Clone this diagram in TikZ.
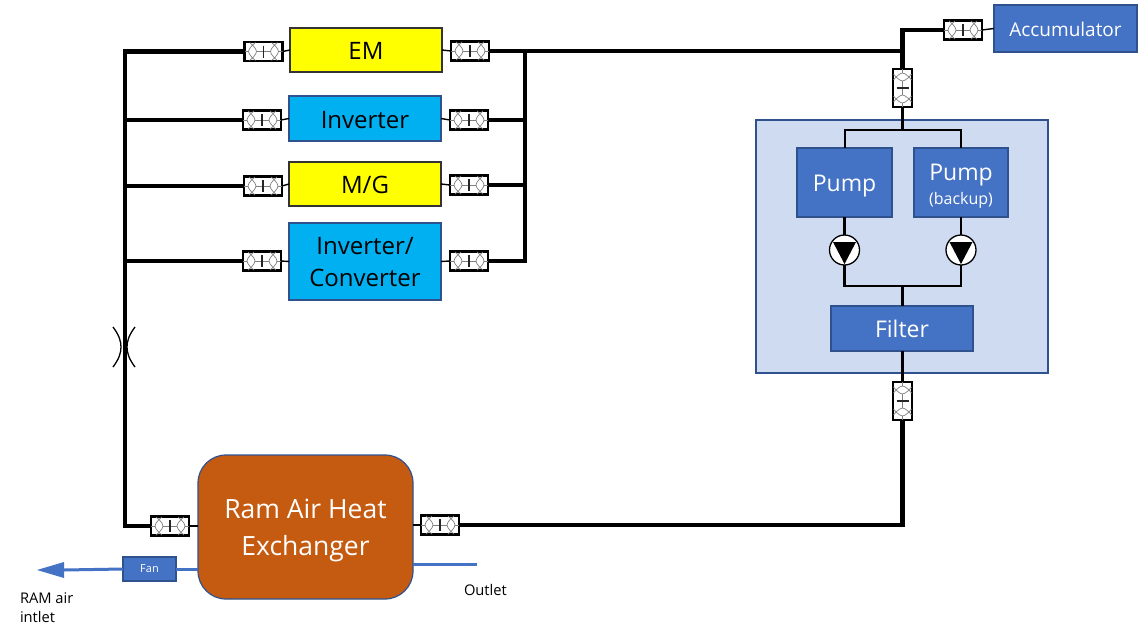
\documentclass[tikz,border=0pt]{standalone}
\usepackage{fontspec}
\setmainfont{Open Sans}
\definecolor{ybox}{HTML}{FFFF00}
\definecolor{cbox}{HTML}{00B0F0}
\definecolor{bbox}{HTML}{4472C4}
\definecolor{bedge}{HTML}{2F528F}
\definecolor{panel}{HTML}{CFDBF1}
\definecolor{rust}{HTML}{C55A11}
\definecolor{cgray}{HTML}{808080}
\newcommand{\lowtext}[2]{\raisebox{-#1}[\height][\depth]{#2}}
\tikzset{
  every node/.style={inner sep=0pt,outer sep=0pt},
  yellowbox/.style={draw=black!80,line width=1.2pt,fill=ybox,font=\fontsize{24}{28}\selectfont,align=center},
  cyanbox/.style={draw=bedge,line width=1.2pt,fill=cbox,font=\fontsize{24}{32}\selectfont,align=center},
  bluebox/.style={draw=bedge,line width=1.2pt,fill=bbox,text=white,font=\fontsize{23}{28}\selectfont,align=center},
  couplingbox/.style={draw=black,line width=2.2pt,fill=white,minimum width=38pt,minimum height=19pt},
  mainline/.style={line width=4.4pt,line join=miter},
  branchline/.style={line width=3.4pt,line join=miter},
  midline/.style={line width=2.5pt,line join=miter},
  thinline/.style={line width=1.4pt},
  airline/.style={draw=bbox,line width=3pt},
  caption/.style={font=\fontsize{14.7}{20}\selectfont,anchor=west}
}
\newcommand{\coupling}[4]{%
  \node[couplingbox,rotate=#4] (#1) at (#2,#3) {};
  \begin{scope}[shift={(#2,#3)},rotate=#4,cgray,line width=0.7pt]
    \draw (-19,0) -- (19,0);
    \draw[black!85,line width=1.1pt] (0,-6) -- (0,6);
    \foreach \s in {-1,1}{
      \draw[fill=white] (\s*11,-6.5) .. controls (\s*8,-3) and (\s*7,-1.5) .. (\s*7,0)
         .. controls (\s*7,1.5) and (\s*8,3) .. (\s*11,6.5)
         .. controls (\s*14,3) and (\s*15,1.5) .. (\s*15,0)
         .. controls (\s*15,-1.5) and (\s*14,-3) .. (\s*11,-6.5) -- cycle;
      \draw (\s*11,-6.5) -- (\s*14,-9) (\s*11,6.5) -- (\s*14,9);
      \draw (\s*11,-6.5) -- (\s*8,-9) (\s*11,6.5) -- (\s*8,9);
    }
  \end{scope}}
\begin{document}
\begin{tikzpicture}[x=1pt,y=-1pt]
\useasboundingbox (0,0) rectangle (1146,624);
% panel
\node[draw=bedge,line width=1.2pt,fill=panel,minimum width=292pt,minimum height=253pt] (panelbox) at (902,246.5) {};
% junction coordinates
\coordinate (tl) at (125,51.5);
\coordinate (jinv) at (125,120);
\coordinate (jmg) at (125,186);
\coordinate (jic) at (125,261);
\coordinate (bl) at (125,526);
\coordinate (rt) at (525,51);
\coordinate (rinv) at (525,120);
\coordinate (rmg) at (525,185);
\coordinate (rb) at (525,261);
\coordinate (tj) at (902.5,51);
\coordinate (tc) at (902.5,30);
\coordinate (pj) at (902.5,130);
\coordinate (pl) at (845,130);
\coordinate (pr) at (961,130);
\coordinate (fj) at (902.5,286);
\coordinate (fl) at (844.5,286);
\coordinate (fr) at (961,286);
\coordinate (br) at (902.5,525);
\coordinate (airtip) at (64,570);
\coordinate (outletend) at (477,564);
% boxes
\node[yellowbox,minimum width=152pt,minimum height=44pt] (em) at (366,50) {\lowtext{1pt}{EM}};
\node[cyanbox,minimum width=152pt,minimum height=45pt] (inv) at (365,118.5) {\lowtext{2pt}{Inverter}};
\node[yellowbox,minimum width=152pt,minimum height=44pt] (mg) at (365,184) {\lowtext{1pt}{M/G}};
\node[cyanbox,minimum width=152pt,minimum height=77pt] (ic) at (365,261.5) {\rule{0pt}{18.5pt}Inverter/\\Converter};
\node[bluebox,font=\fontsize{19}{24}\selectfont,minimum width=143pt,minimum height=47pt] (acc) at (1065.5,28.5) {\lowtext{0.5pt}{Accumulator}};
\node[bluebox,minimum width=95pt,minimum height=69pt] (pump) at (844.5,182.5) {\lowtext{4pt}{Pump}};
\node[bluebox,minimum width=94pt,minimum height=69pt] (pumpb) at (961,182.5) {\rule{0pt}{23pt}Pump\\[-4pt]{\fontsize{16}{16}\selectfont (backup)}};
\node[bluebox,minimum width=142pt,minimum height=45pt] (filter) at (902,328.5) {\lowtext{0.5pt}{Filter}};
\node[draw=bedge,line width=1.2pt,fill=rust,rounded corners=28pt,text=white,font=\fontsize{26.5}{36.5}\selectfont,align=center,minimum width=215pt,minimum height=144pt] (rahe) at (305.5,527) {\rule{0pt}{26pt}Ram Air Heat\\Exchanger};
\node[bluebox,font=\fontsize{11}{13}\selectfont,minimum width=53pt,minimum height=24pt] (fan) at (149.5,569) {Fan};
% couplings
\coupling{cemL}{263.5}{51.5}{0}
\coupling{cemR}{470}{51}{0}
\coupling{cinvL}{262}{120}{0}
\coupling{cinvR}{469}{120}{0}
\coupling{cmgL}{263}{186}{0}
\coupling{cmgR}{469}{185}{0}
\coupling{cicL}{262}{261}{0}
\coupling{cicR}{469}{261}{0}
\coupling{cacc}{963}{30}{0}
\coupling{ctop}{902.5}{88}{90}
\coupling{cfilt}{902.5}{401}{90}
\coupling{craheL}{170}{526}{0}
\coupling{craheR}{440}{525}{0}
% pump symbols
\node[circle,draw=black,line width=1.3pt,fill=white,minimum size=30pt] (p1) at (844.5,250) {};
\node[circle,draw=black,line width=1.3pt,fill=white,minimum size=30pt] (p2) at (961,250) {};
\fill (833,242) -- (856,242) -- (844.5,264) -- cycle;
\fill (949.5,242) -- (972.5,242) -- (961,264) -- cycle;
% main lines
\draw[mainline] (cemL.west) -- (tl) -- (bl) -- (craheL.west);
\draw[branchline] (jinv) -- (cinvL.west);
\draw[branchline] (jmg) -- (cmgL.west);
\draw[branchline] (jic) -- (cicL.west);
\draw[mainline] (cemR.east) -- (tj);
\draw[mainline] (rt) -- (rb) -- (cicR.east);
\draw[branchline] (cinvR.east) -- (rinv);
\draw[branchline] (cmgR.east) -- (rmg);
\draw[mainline] (ctop.east) -- (tc) -- (cacc.west);
\draw[mainline] (cfilt.west) -- (br) -- (craheR.east);
% thin stubs
\draw[thinline] (cemL.east) -- (em.west);
\draw[thinline] (cemR.west) -- (em.east);
\draw[thinline] (cinvL.east) -- (inv.west);
\draw[thinline] (cinvR.west) -- (inv.east);
\draw[thinline] (cmgL.east) -- (mg.west);
\draw[thinline] (cmgR.west) -- (mg.east);
\draw[thinline] (cicL.east) -- (ic.west);
\draw[thinline] (cicR.west) -- (ic.east);
\draw[thinline] (cacc.east) -- (acc.west);
\draw[thinline] (craheL.east) -- (rahe.west|-craheL);
\draw[thinline] (craheR.west) -- (rahe.east|-craheR);
% panel piping
\draw[midline] (ctop.west) -- (pj);
\draw[midline] (pump.north-|pl) -- (pl) -- (pr) -- (pumpb.north-|pr);
\draw[midline] (pump.south) -- (p1.north);
\draw[midline] (pumpb.south) -- (p2.north);
\draw[midline] (p1.south) -- (fl) -- (fr) -- (p2.south);
\draw[midline] (fj) -- (filter.north-|fj);
\draw[mainline,line width=3pt] (filter.south-|cfilt) -- (cfilt.east);
% restrictor
\draw[line width=1.3pt] (113,327) .. controls (119,335) and (121,341) .. (121,347) .. controls (121,353) and (119,359) .. (113,367);
\draw[line width=1.3pt] (135,327) .. controls (129,335) and (127,341) .. (127,347) .. controls (127,353) and (129,359) .. (135,367);
% air
\draw[airline] (airtip) -- (fan.west);
\draw[airline] (fan.east) -- (rahe.west|-fan);
\draw[airline] (rahe.east|-outletend) -- (outletend);
\fill[bbox] (37,570) -- (64,562) -- (64,578) -- cycle;
% labels
\node[caption] (lram) at (20,598) {RAM air};
\node[caption] (lint) at (20,617) {intlet};
\node[caption] (lout) at (464,590) {Outlet};
\end{tikzpicture}
\end{document}
